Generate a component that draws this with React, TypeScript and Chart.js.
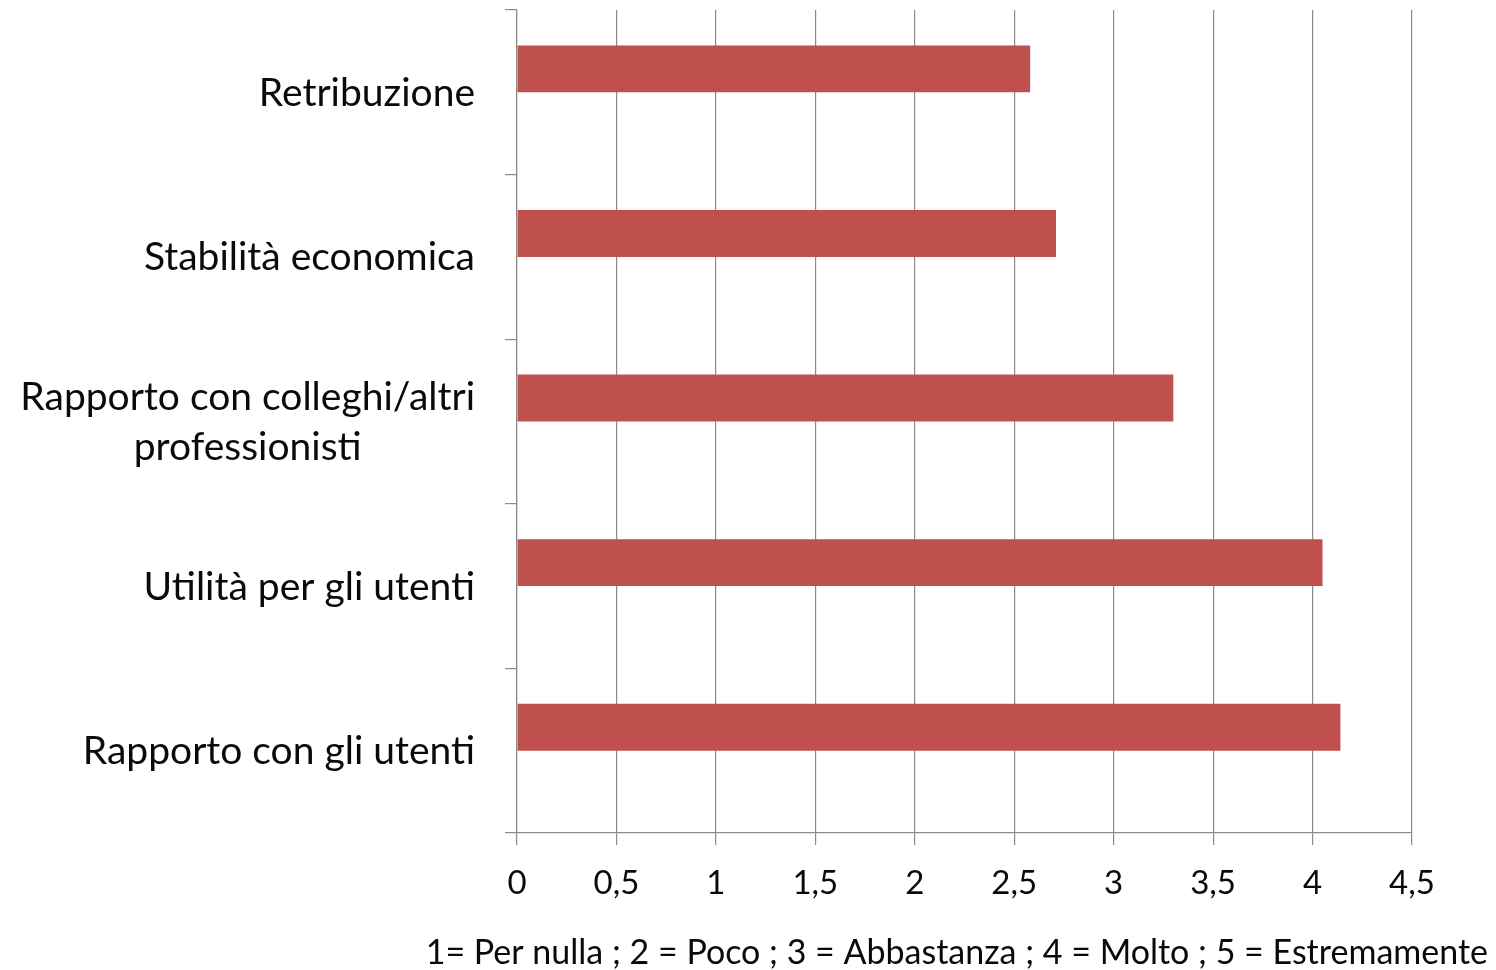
import React, { useEffect, useRef } from "react";
import { Chart, registerables } from "chart.js";

Chart.register(...registerables);

const categories: string[][] = [
  ["Retribuzione"],
  ["Stabilità economica"],
  ["Rapporto con colleghi/altri", "professionisti"],
  ["Utilità per gli utenti"],
  ["Rapporto con gli utenti"],
];
const values: number[] = [2.58, 2.71, 3.3, 4.05, 4.14];
const emptySeries: (number | null)[] = [null, null, null, null, null];
const xTickMin = 0;
const xTickMax = 4.5;
const xTickStep = 0.5;
const footnote = "1= Per nulla ; 2 = Poco ; 3 = Abbastanza ; 4 = Molto ; 5 = Estremamente";

const FONT = "Lato, 'Open Sans', sans-serif";
const GRID = "#8a8a8a";
const BAR = "#C0504D";
const TEXT = "#0a0a0a";

const labelPlugin = {
  id: "catLabels",
  afterDraw(chart: any) {
    const y = chart.scales.y;
    const ctx = chart.ctx as CanvasRenderingContext2D;
    const rightEdge = chart.chartArea.left - 42;
    ctx.save();
    ctx.font = `39px ${FONT}`;
    ctx.fillStyle = TEXT;
    ctx.textBaseline = "middle";
    ctx.textAlign = "center";
    const lh = 50;
    categories.forEach((lines, i) => {
      const cy = y.getPixelForValue(i) + 1;
      const w = Math.max(...lines.map((l) => ctx.measureText(l).width));
      const cx = rightEdge - w / 2;
      const startY = cy - ((lines.length - 1) * lh) / 2;
      lines.forEach((l, k) => ctx.fillText(l, cx, startY + k * lh));
    });
    // axis note below the x axis
    ctx.font = `34px ${FONT}`;
    ctx.textAlign = "right";
    ctx.fillText(footnote, chart.width - 8, chart.chartArea.bottom + 120);
    ctx.restore();
  },
};

export default function App() {
  const ref = useRef<HTMLCanvasElement>(null);
  useEffect(() => {
    if (!ref.current) return;
    const chart = new Chart(ref.current, {
      type: "bar",
      data: {
        labels: categories.map((c) => c.join(" ")),
        datasets: [
          { label: "Media", data: values, backgroundColor: BAR, categoryPercentage: 0.57, barPercentage: 1 },
          { label: "", data: emptySeries, backgroundColor: BAR, categoryPercentage: 0.57, barPercentage: 1 },
        ],
      },
      options: {
        indexAxis: "y",
        animation: false,
        responsive: false,
        maintainAspectRatio: false,
        layout: { padding: { top: 10, right: 84, left: 0, bottom: 0 } },
        plugins: { legend: { display: false }, tooltip: { enabled: false } },
        scales: {
          x: {
            min: xTickMin,
            max: xTickMax,
            ticks: {
              stepSize: xTickStep,
              font: { family: FONT, size: 33 },
              color: TEXT,
              padding: 19,
              callback: (v: any) => String(v).replace(".", ","),
            },
            grid: { color: GRID, lineWidth: 1.2, tickLength: 12 },
            border: { display: true, color: GRID, width: 1.2 },
            afterFit: (s: any) => {
              s.height = 137;
            },
          },
          y: {
            ticks: { display: false },
            grid: { color: GRID, lineWidth: 1.2, tickLength: 12, drawOnChartArea: false, offset: true },
            border: { display: true, color: GRID, width: 1.2 },
            afterFit: (s: any) => {
              s.width = 517;
            },
          },
        },
      },
      plugins: [labelPlugin],
    });
    return () => chart.destroy();
  }, []);
  return (
    <div style={{ position: "fixed", left: 0, top: 0, width: 1496, height: 970, background: "#fff" }}>
      <canvas ref={ref} width={1496} height={970} style={{ width: 1496, height: 970 }} />
    </div>
  );
}
